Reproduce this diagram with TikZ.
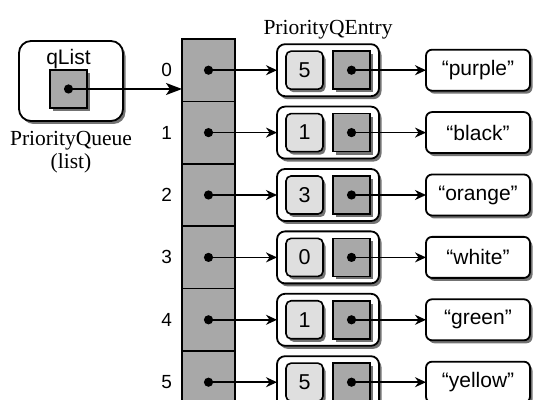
\documentclass[tikz,border=0pt]{standalone}
\usepackage{fontspec}
\setmainfont{Liberation Serif}
\setsansfont{Liberation Sans}
\usepackage{tikz}
\usetikzlibrary{arrows.meta,positioning,shadows}
\definecolor{ptrgray}{HTML}{A8A8A8}
\definecolor{keygray}{HTML}{DFDFDF}
\tikzset{
	queue diagram/.style={
		x=1pt, y=-1pt,
		every node/.style={outer sep=0pt},
		ar/.style={draw, line width=1.5pt, -{Stealth[length=11pt,width=10pt]}},
		bigar/.style={draw, line width=1.5pt, -{Stealth[length=16pt,width=12pt,inset=4pt]}},
		},
	shade box/.style={drop shadow={shadow xshift=2.5pt, shadow yshift=-3pt, fill=black!55, opacity=1}},
	cellbox/.style={draw, line width=1.6pt, fill=ptrgray, minimum width=53pt, minimum height=62.4pt, inner sep=0pt},
	entrybox/.style={draw, line width=1.8pt, fill=white, rounded corners=8pt, minimum width=102pt, minimum height=52pt, shade box},
	keybox/.style={draw, line width=1.6pt, fill=keygray, rounded corners=5pt, minimum width=37pt, minimum height=38pt,
		inner sep=0pt, font=\sffamily\fontsize{21.5}{24}\selectfont, shade box},
	ptrbox/.style={draw, line width=1.6pt, fill=ptrgray, minimum width=37pt, minimum height=38pt, inner sep=0pt, shade box},
	wordbox/.style={draw, line width=1.8pt, fill=white, rounded corners=6pt, minimum width=104pt, minimum height=41pt,
		inner sep=0pt, font=\sffamily\fontsize{21}{24}\selectfont, shade box},
	qbox/.style={draw, line width=1.8pt, fill=white, rounded corners=12pt, minimum width=104pt, minimum height=80pt, shade box},
	idx/.style={inner sep=0pt, font=\sffamily\fontsize{19}{21}\selectfont},
	sanslabel/.style={inner sep=0pt, font=\sffamily\fontsize{21}{23}\selectfont},
	seriflabel/.style={inner sep=0pt, align=center, font=\fontsize{21.5}{23}\selectfont},
	dotmark/.style={fill=black}
}

\begin{document}
\begin{tikzpicture}[queue diagram]
	\useasboundingbox (0,0) rectangle (560,411);
	\clip (0,0) rectangle (560,400);
	% the list object
	\node[qbox] (qbox) at (71,81) {};
	\node[ptrbox] (qptr) at (68.5,89) {};
	\node[sanslabel, above=1pt of qptr] (qname) {qList};
	\node[seriflabel, below=10pt of qbox] (qtype) {PriorityQueue\\(list)};
	% slots, entries and strings
	\foreach \i/\k/\w in {0/5/purple,1/1/black,2/3/orange,3/0/white,4/1/green,5/5/yellow} {
		\node[cellbox] (cell\i) at (208.5,{70.2+62.4*\i}) {};
		\node[idx, left=10pt of cell\i] (idx\i) {\i};
		\node[entrybox, right=42pt of cell\i] (entry\i) {};
		\node[keybox, right=9pt of entry\i.west] (key\i) {\k};
		\node[ptrbox, left=9pt of entry\i.east] (ptr\i) {};
		\node[wordbox, right=47pt of entry\i] (word\i) {“\w”};
		\fill[dotmark] (cell\i.center) circle (4.6pt);
		\fill[dotmark] (ptr\i.center) circle (4.6pt);
		\draw[ar] (cell\i.center) -- (entry\i);
		\draw[ar] (ptr\i.center) -- (word\i);
	}
	\node[seriflabel, above=5pt of entry0] (etype) {PriorityQEntry};
	\fill[dotmark] (qptr.center) circle (4.6pt);
	\draw[bigar] (qptr.center) -- (qptr.center -| cell0.west);
\end{tikzpicture}
\end{document}
